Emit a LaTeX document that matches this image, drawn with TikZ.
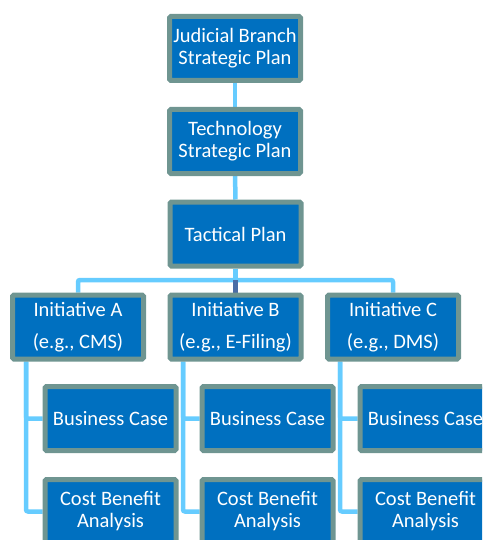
\documentclass[tikz,border=0pt]{standalone}
\usepackage{fontspec}
\setmainfont{Carlito}
\usetikzlibrary{backgrounds}
\definecolor{boxfill}{HTML}{0070C0}
\definecolor{boxedge}{HTML}{6F9591}
\definecolor{link}{HTML}{66CCFF}
\definecolor{darklink}{HTML}{4A6DA6}
\tikzset{
  box/.style={draw=boxedge, line width=5pt, fill=boxfill, rounded corners=1.5pt,
    minimum width=131pt, minimum height=64pt, inner sep=0pt, text=white,
    align=center, font=\fontsize{20.5}{22}\selectfont},
  conn/.style={draw=link, line width=4.5pt},
  darkconn/.style={draw=darklink, line width=4.5pt},
}
\begin{document}
\begin{tikzpicture}[x=1pt,y=-1pt]
\useasboundingbox (0,0) rectangle (482,540);
\clip (0,0) rectangle (482,540);
\node[box] (j) at (235,48.5) {Judicial Branch\\Strategic Plan};
\node[box] (t) at (235,141.5) {Technology\\Strategic Plan};
\node[box] (tac) at (235.5,234) {Tactical Plan};
\node[box] (ia) at (78,327) {Initiative A\\[10pt](e.g., CMS)};
\node[box] (ib) at (235.5,327) {Initiative B\\[10pt](e.g., E-Filing)};
\node[box] (ic) at (393,327) {Initiative C\\[10pt](e.g., DMS)};
\node[box] (ba) at (110.5,418.5) {Business Case};
\node[box] (bb) at (267.5,418.5) {Business Case};
\node[box] (bc) at (425.5,418.5) {Business Case};
\node[box] (ca) at (110.5,511.5) {Cost Benefit\\Analysis};
\node[box] (cb) at (267.5,511.5) {Cost Benefit\\Analysis};
\node[box] (cc) at (425.5,511.5) {Cost Benefit\\Analysis};
\coordinate (hub) at (235.5,280);
\coordinate (ta) at (26,0);
\coordinate (tb) at (183,0);
\coordinate (tc) at (340,0);
\begin{scope}[on background layer]
\draw[conn] (j) -- (t);
\draw[conn] (t) -- (tac);
\draw[conn] (tac) -- (hub);
\draw[conn, rounded corners=2pt] (ia.north) |- (hub) -| (ic.north);
\draw[darkconn] (hub) -- (ib.north);
\draw[conn, rounded corners=2pt] (ia.south -| ta) |- (ba.west);
\draw[conn, rounded corners=2pt] (ia.south -| ta) |- (ca.west);
\draw[conn, rounded corners=2pt] (ib.south -| tb) |- (bb.west);
\draw[conn, rounded corners=2pt] (ib.south -| tb) |- (cb.west);
\draw[conn, rounded corners=2pt] (ic.south -| tc) |- (bc.west);
\draw[conn, rounded corners=2pt] (ic.south -| tc) |- (cc.west);
\end{scope}
\end{tikzpicture}
\end{document}
